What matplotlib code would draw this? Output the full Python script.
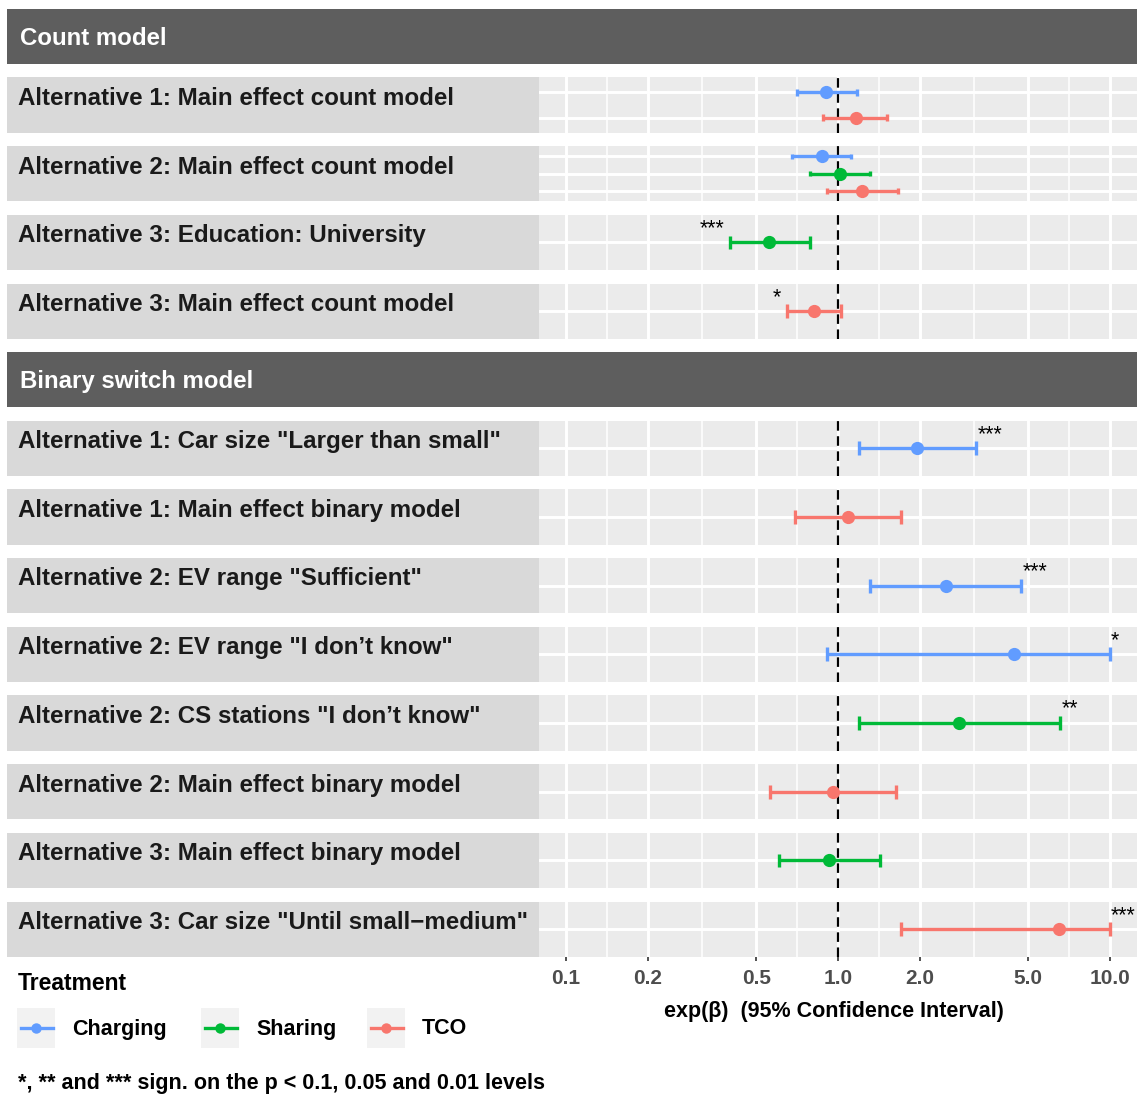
import numpy as np
import matplotlib
matplotlib.use("Agg")
import matplotlib.pyplot as plt
from matplotlib.patches import Rectangle
from matplotlib.lines import Line2D
from matplotlib.ticker import NullLocator

plt.rcParams["font.family"] = ["Liberation Sans", "DejaVu Sans"]

# facets: model type and the effect shown in each panel
model_groups = ["Count model", "Binary switch model"]
panel_group = [0, 0, 0, 0, 1, 1, 1, 1, 1, 1, 1, 1]
panel_labels = [
    "Alternative 1: Main effect count model",
    "Alternative 2: Main effect count model",
    "Alternative 3: Education: University",
    "Alternative 3: Main effect count model",
    'Alternative 1: Car size "Larger than small"',
    "Alternative 1: Main effect binary model",
    'Alternative 2: EV range "Sufficient"',
    'Alternative 2: EV range "I don\u2019t know"',
    'Alternative 2: CS stations "I don\u2019t know"',
    "Alternative 2: Main effect binary model",
    "Alternative 3: Main effect binary model",
    'Alternative 3: Car size "Until small\u2212medium"',
]

# one row per estimate
treatments = ["Charging", "Sharing", "TCO"]
row_panel = [0, 0, 1, 1, 1, 2, 3, 4, 5, 6, 7, 8, 9, 10, 11]
row_treatment = ["Charging", "TCO", "Charging", "Sharing", "TCO", "Sharing", "TCO",
                 "Charging", "TCO", "Charging", "Charging", "Sharing", "TCO", "Sharing", "TCO"]
estimate = [0.90, 1.16, 0.87, 1.02, 1.23, 0.558, 0.816, 1.95, 1.09, 2.49, 4.43, 2.78, 0.96, 0.928, 6.49]
ci_low = [0.705, 0.883, 0.675, 0.79, 0.91, 0.40, 0.647, 1.19, 0.693, 1.31, 0.91, 1.19, 0.563, 0.609, 1.71]
ci_high = [1.17, 1.52, 1.12, 1.31, 1.66, 0.79, 1.03, 3.22, 1.71, 4.73, 10.0, 6.55, 1.64, 1.426, 10.0]
stars = ["", "", "", "", "", "***", "*", "***", "", "***", "*", "**", "", "", "***"]

x_breaks = [0.1, 0.2, 0.5, 1.0, 2.0, 5.0, 10.0]
x_break_labels = ["0.1", "0.2", "0.5", "1.0", "2.0", "5.0", "10.0"]

colors = {"Charging": "#619CFF", "Sharing": "#00BA38", "TCO": "#F8766D"}

W, H = 1138, 1098
fig = plt.figure(figsize=(W / 100, H / 100), dpi=100)


def fbox(x, y, w, h):
    # pixel box measured from the top-left corner -> figure fraction
    return [x / W, 1 - (y + h) / H, w / W, h / H]


def add_rect(x, y, w, h, color):
    fig.add_artist(Rectangle((x / W, 1 - (y + h) / H), w / W, h / H,
                             transform=fig.transFigure, facecolor=color,
                             edgecolor="none", zorder=0))


LEFT, STRIP_R, RIGHT = 7, 539, 1137
HEADER_H, PANEL_H, GAP = 55, 55.3, 13.4
minor_breaks = [np.sqrt(a * b) for a, b in zip(x_breaks[:-1], x_breaks[1:])]

y = 9.0
last_ax = None
for g, group in enumerate(model_groups):
    add_rect(LEFT, y, RIGHT - LEFT, HEADER_H, "#5E5E5E")
    fig.text(20 / W, 1 - (y + HEADER_H / 2 + 2) / H, group, color="white",
             fontsize=17.3, fontweight="bold", va="center", ha="left")
    y += HEADER_H + GAP

    for p in [i for i, pg in enumerate(panel_group) if pg == g]:
        add_rect(LEFT, y, STRIP_R - LEFT, PANEL_H, "#D9D9D9")
        fig.text(18 / W, 1 - (y + 21) / H, panel_labels[p], color="#1A1A1A",
                 fontsize=17.35, fontweight="bold", va="center", ha="left")

        ax = fig.add_axes(fbox(STRIP_R, y, RIGHT - STRIP_R, PANEL_H))
        ax.set_facecolor("#EBEBEB")
        ax.set_xscale("log")
        ax.set_xlim(10 ** -1.1, 10 ** 1.1)

        rows = [r for r in range(len(row_panel)) if row_panel[r] == p]
        cats = [t for t in treatments if any(row_treatment[r] == t for r in rows)]
        ypos = {t: k + 1 for k, t in enumerate(cats)}
        ax.set_ylim(len(cats) + 0.6, 0.4)

        for v in minor_breaks:
            ax.axvline(v, color="white", lw=1.1, zorder=0.5)
        for v in x_breaks:
            ax.axvline(v, color="white", lw=2.1, zorder=0.6)
        for t in cats:
            ax.axhline(ypos[t], color="white", lw=2.1, zorder=0.6)
        ax.axvline(1.0, color="black", lw=1.6, ls=(0, (4.3, 2.5)), zorder=1)

        for r in rows:
            yy = ypos[row_treatment[r]]
            c = colors[row_treatment[r]]
            ax.hlines(yy, ci_low[r], ci_high[r], color=c, lw=2.4, zorder=2)
            ax.vlines([ci_low[r], ci_high[r]], yy - 0.15, yy + 0.15, color=c, lw=2.4, zorder=2)
            ax.plot(estimate[r], yy, "o", color=c, ms=9.5, mec="none", zorder=3)
            if stars[r]:
                if estimate[r] >= 1:
                    ax.annotate(stars[r], (ci_high[r], yy), xytext=(1, 10),
                                textcoords="offset points", ha="left", va="center",
                                fontsize=15.5, annotation_clip=False)
                else:
                    ax.annotate(stars[r], (ci_low[r], yy), xytext=(-4, 10),
                                textcoords="offset points", ha="right", va="center",
                                fontsize=15.5, annotation_clip=False)

        for s in ax.spines.values():
            s.set_visible(False)
        ax.set_yticks([])
        ax.xaxis.set_minor_locator(NullLocator())
        ax.set_xticks([])
        last_ax = ax
        y += PANEL_H + GAP

# x axis under the bottom panel
last_ax.set_xticks(x_breaks)
last_ax.set_xticklabels(x_break_labels)
last_ax.xaxis.set_minor_locator(NullLocator())
last_ax.tick_params(axis="x", length=3, width=1.2, color="#333333",
                    labelsize=15, labelcolor="#4D4D4D", pad=6)
for lbl in last_ax.get_xticklabels():
    lbl.set_fontweight("bold")

fig.text(834 / W, 1 - 1011 / H, "exp(\u03b2)  (95% Confidence Interval)",
         fontsize=15.5, fontweight="bold", ha="center", va="center")

# legend
fig.text(18 / W, 1 - 984 / H, "Treatment", fontsize=16.5, fontweight="bold",
         ha="left", va="center")
key_x = [17, 201, 367]
for kx, t in zip(key_x, treatments):
    add_rect(kx, 1008, 38, 40, "#F2F2F2")
    ky = 1 - 1028 / H
    fig.add_artist(Line2D([(kx + 4) / W, (kx + 36) / W], [ky, ky], color=colors[t],
                          lw=2.4, transform=fig.transFigure))
    fig.add_artist(Line2D([(kx + 19) / W], [ky], marker="o", ms=7.5, color=colors[t],
                          mec="none", transform=fig.transFigure))
    fig.text((kx + 55) / W, 1 - 1029 / H, t, fontsize=15.5, fontweight="bold",
             ha="left", va="center")

fig.text(18 / W, 1 - 1083 / H, "*, ** and *** sign. on the p < 0.1, 0.05 and 0.01 levels",
         fontsize=15.5, fontweight="bold", ha="left", va="center")

fig.savefig("out.png", dpi=100, facecolor="white")
